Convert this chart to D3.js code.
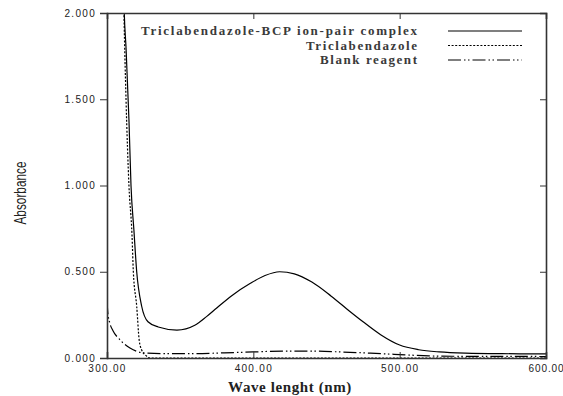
<!DOCTYPE html>
<html><head><meta charset="utf-8">
<script src="https://cdn.jsdelivr.net/npm/d3@7"></script>
<style>html,body{margin:0;padding:0;background:#fff;}svg{display:block;}</style>
</head><body>
<svg id="c" width="563" height="396"></svg>
<script>
// ---- data ----
const xTicks = [300, 400, 500, 600];
const xTickLabels = ["300.00", "400.00", "500.00", "600.00"];
const yTicks = [0, 0.5, 1.0, 1.5, 2.0];
const yTickLabels = ["0.000", "0.500", "1.000", "1.500", "2.000"];

const seriesNames = ["Triclabendazole-BCP ion-pair complex", "Triclabendazole", "Blank reagent"];

const complexWl  = [311.0, 311.8, 313.0, 315.0, 316.4, 318.4, 320.3, 323.7, 328.0, 335.0, 347.8, 360, 368, 375, 385, 398, 408, 418, 428, 440, 453, 466, 475, 487, 500, 513, 527, 545, 570, 600];
const complexAbs = [2.30, 2.00, 1.80, 1.38, 1.00, 0.74, 0.50, 0.30, 0.21, 0.18, 0.162, 0.19, 0.24, 0.29, 0.36, 0.433, 0.478, 0.50, 0.488, 0.44, 0.36, 0.27, 0.21, 0.135, 0.075, 0.048, 0.035, 0.028, 0.025, 0.024];

const triWl  = [311.0, 311.6, 313.0, 315.0, 317.1, 318.0, 320.3, 322.0, 323.7, 326.5, 329.4, 340, 600];
const triAbs = [2.30, 2.00, 1.50, 1.00, 0.71, 0.50, 0.30, 0.104, 0.046, 0.015, 0.0, 0.0, 0.0];

const blankWl  = [300, 300.6, 302, 304, 309, 315.7, 324.6, 340, 360, 380, 400, 420, 440, 460, 480, 500, 520, 540, 560, 580, 600];
const blankAbs = [0.33, 0.26, 0.20, 0.16, 0.104, 0.058, 0.030, 0.025, 0.025, 0.030, 0.035, 0.040, 0.040, 0.035, 0.028, 0.020, 0.012, 0.010, 0.010, 0.010, 0.008];

// ---- layout ----
const svg = d3.select("#c");
const L = 107, R = 546, T = 13, B = 358;
const x = d3.scaleLinear().domain([300, 600]).range([L, R]);
const y = d3.scaleLinear().domain([0, 2]).range([B, T]);
const axisCol = "#333";

svg.append("defs").append("clipPath").attr("id", "clip")
  .append("rect").attr("x", L).attr("y", T).attr("width", R - L).attr("height", B - T);

// curves
const line = d3.line().x(d => x(d[0])).y(d => y(d[1])).curve(d3.curveMonotoneX);
const series = [
  {wl: complexWl, ab: complexAbs, dash: null},
  {wl: triWl, ab: triAbs, dash: "2,1.6"},
  {wl: blankWl, ab: blankAbs, dash: "13,3,1.5,2.5,1.5,3"}
];
const g = svg.append("g").attr("clip-path", "url(#clip)");
series.forEach(s => {
  g.append("path").datum(d3.zip(s.wl, s.ab))
    .attr("d", line).attr("fill", "none").attr("stroke", "#000")
    .attr("stroke-width", 1.2)
    .attr("stroke-dasharray", s.dash);
});

// axes
const fmtX = (d) => xTickLabels[xTicks.indexOf(d)];
const fmtY = (d) => yTickLabels[yTicks.indexOf(d)];

const axB = svg.append("g").attr("transform", `translate(0,${B})`)
  .call(d3.axisBottom(x).tickValues(xTicks).tickSize(-6).tickPadding(5).tickFormat(fmtX));
const axT = svg.append("g").attr("transform", `translate(0,${T})`)
  .call(d3.axisTop(x).tickValues([400, 500]).tickSize(-6).tickFormat(""));
const axL = svg.append("g").attr("transform", `translate(${L},0)`)
  .call(d3.axisLeft(y).tickValues(yTicks).tickSize(7).tickPadding(4).tickFormat(fmtY));
const axR = svg.append("g").attr("transform", `translate(${R},0)`)
  .call(d3.axisRight(y).tickValues([0.5, 1.0, 1.5]).tickSize(-6).tickFormat(""));

[axB, axT, axL, axR].forEach(a => {
  a.select(".domain").attr("stroke", axisCol).attr("stroke-width", 1.6);
  a.selectAll(".tick line").attr("stroke", axisCol).attr("stroke-width", 1);
  a.selectAll(".tick text").attr("fill", "#222")
    .style("font-family", "'Liberation Sans', Arial, sans-serif").style("font-size", "10px")
    .style("letter-spacing", "1.3px");
});
axB.selectAll(".tick").filter(d => d === 300 || d === 600).select("line").remove();
axL.selectAll(".tick").filter(d => d === 2.0).select("line").remove();
axB.selectAll(".tick text").attr("dy", "0.9em");
axB.selectAll(".tick").filter(d => d === 600).select("text").style("letter-spacing", "0.9px");

// axis titles
svg.append("text").attr("x", 290).attr("y", 392).attr("text-anchor", "middle")
  .style("font-family", "'Liberation Serif', 'Times New Roman', serif")
  .style("font-size", "15px").style("font-weight", "bold").attr("fill", "#222")
  .attr("letter-spacing", "0.6px")
  .text("Wave lenght (nm)");

svg.append("text").attr("transform", "translate(26,193) rotate(-90)")
  .attr("text-anchor", "middle")
  .style("font-family", "'Liberation Sans Narrow', 'Liberation Sans', Arial, sans-serif")
  .style("font-size", "17px").attr("fill", "#222")
  .attr("textLength", 63).attr("lengthAdjust", "spacingAndGlyphs")
  .text("Absorbance");

// legend
const legY = [35, 49.5, 64];
const legLen = [276, 111, 97];
const legDash = [null, "2,1.6", "13,3,1.5,2.5,1.5,3"];
seriesNames.forEach((n, i) => {
  svg.append("text").attr("x", 417).attr("y", legY[i]).attr("text-anchor", "end")
    .style("font-family", "'Liberation Serif', 'Times New Roman', serif")
    .style("font-size", "13px").style("font-weight", "bold").attr("fill", "#3a3a3a")
    .attr("textLength", legLen[i]).attr("lengthAdjust", "spacing")
    .text(n);
  svg.append("line").attr("x1", 448).attr("x2", 522)
    .attr("y1", legY[i] - 4).attr("y2", legY[i] - 4)
    .attr("stroke", "#000").attr("stroke-width", 1.1)
    .attr("stroke-dasharray", legDash[i]);
});
</script>
</body></html>
